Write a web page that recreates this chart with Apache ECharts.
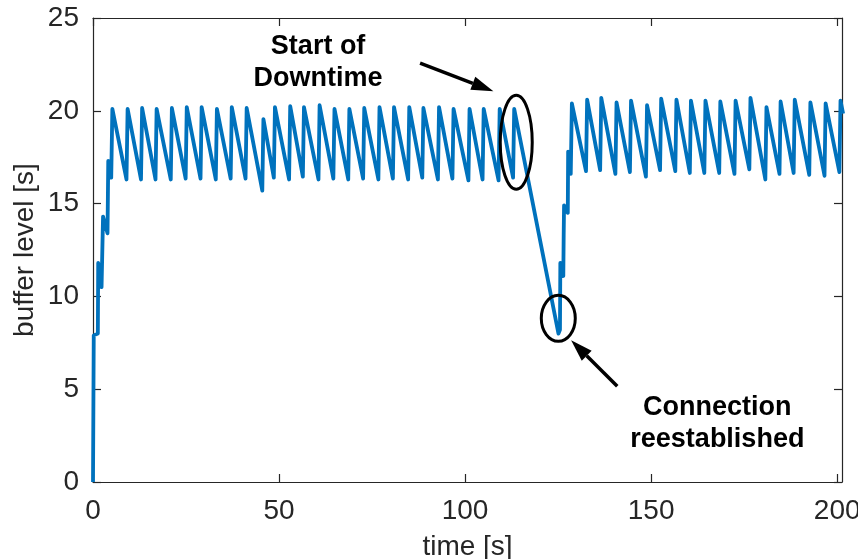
<!DOCTYPE html>
<html>
<head>
<meta charset="utf-8">
<script src="https://cdn.jsdelivr.net/npm/echarts@6/dist/echarts.min.js"></script>
<style>
  html, body { margin: 0; padding: 0; background: #fff; }
  #chart { width: 858px; height: 559px; }
</style>
</head>
<body>
<div id="chart"></div>
<script>
// Start-up phase: buffer filled in steps
const startupTime  = [0, 0.1, 0.2, 1.3, 1.4, 2.3, 2.7, 3.9, 4.1, 4.9];
const startupLevel = [0, 3.9, 7.9, 8.0, 11.8, 10.5, 14.3, 13.4, 17.3, 16.4];

// Steady playback before the outage (peaks and the troughs preceding them)
const peakTime1  = [5.2, 9.3, 13.2, 17.1, 21.2, 25.2, 29.2, 33.3, 37.3, 41.3, 45.8, 48.9, 53.0, 56.7,
                    60.9, 64.9, 68.9, 72.9, 77.0, 80.9, 85.0, 88.8, 93.0, 96.9, 101.2, 105.0, 109.3, 113.2];
const peakLevel1 = [20.1, 20.1, 20.15, 20.1, 20.15, 20.2, 20.2, 20.1, 20.2, 20.15, 19.55, 20.2, 20.25, 20.2,
                    20.3, 20.1, 20.1, 20.15, 20.2, 20.2, 20.2, 20.15, 20.2, 20.1, 20.1, 20.1, 20.1, 20.1];
const troughTime1  = [9.0, 12.9, 16.8, 20.9, 24.9, 28.9, 33.0, 37.0, 41.0, 45.5, 48.6, 52.7, 56.4, 60.6,
                      64.6, 68.6, 72.6, 76.7, 80.6, 84.7, 88.5, 92.7, 96.6, 100.9, 104.7, 109.0, 112.9];
const troughLevel1 = [16.3, 16.3, 16.3, 16.3, 16.35, 16.35, 16.3, 16.35, 16.35, 15.7, 16.4, 16.3, 16.45, 16.3,
                      16.35, 16.3, 16.35, 16.3, 16.35, 16.3, 16.4, 16.3, 16.35, 16.25, 16.3, 16.25, 16.4];

// Recovery after the connection comes back
const recoveryTime  = [125.1, 125.5, 125.6, 126.4, 126.5, 126.6, 127.6, 127.7, 128.4];
const recoveryLevel = [8.0, 8.2, 11.8, 11.1, 13.3, 14.9, 14.5, 17.8, 16.6];

// Steady playback after the outage
const peakTime2  = [128.7, 132.8, 136.6, 140.7, 144.6, 148.9, 152.7, 156.8, 160.7, 164.6, 168.6, 172.7,
                    176.7, 181.0, 184.8, 188.6, 192.8, 196.9, 200.9];
const peakLevel2 = [20.4, 20.6, 20.7, 20.45, 20.55, 20.3, 20.65, 20.6, 20.55, 20.55, 20.5, 20.55,
                    20.7, 20.2, 20.5, 20.6, 20.45, 20.4, 20.55];
const troughTime2  = [132.5, 136.3, 140.4, 144.3, 148.6, 152.4, 156.5, 160.4, 164.3, 168.3, 172.4, 176.4,
                      180.7, 184.5, 188.3, 192.5, 196.6, 200.6];
const troughLevel2 = [16.75, 16.8, 16.6, 16.7, 16.45, 16.8, 16.75, 16.65, 16.65, 16.65, 16.6, 16.85,
                      16.3, 16.6, 16.65, 16.55, 16.5, 16.7];
const tailTime  = [201.6];
const tailLevel = [19.85];

const xTicks = [0, 50, 100, 150, 200];
const yTicks = [0, 5, 10, 15, 20, 25];

// Assemble the trace in time order
function sawtooth(pt, pl, tt, tl) {
  const out = [];
  for (let i = 0; i < pt.length; i++) {
    if (i > 0) out.push([tt[i - 1], tl[i - 1]]);
    out.push([pt[i], pl[i]]);
  }
  return out;
}
const pairs = (t, v) => t.map((x, i) => [x, v[i]]);
const trace = [].concat(
  pairs(startupTime, startupLevel),
  sawtooth(peakTime1, peakLevel1, troughTime1, troughLevel1),
  pairs(recoveryTime, recoveryLevel),
  sawtooth(peakTime2, peakLevel2, troughTime2, troughLevel2),
  pairs(tailTime, tailLevel)
);

const FONT = "'Liberation Sans', Arial, Helvetica, sans-serif";
const AX = '#262626';
const X_MAX = 201.3;

const frameAxis = (extra) => Object.assign({
  type: 'value',
  axisLine: { show: true, onZero: false, lineStyle: { color: AX, width: 1.2 } },
  axisTick: { show: true, inside: true, length: 8, lineStyle: { color: AX, width: 1.2 } },
  splitLine: { show: false },
  axisLabel: { show: false }
}, extra);

const chart = echarts.init(document.getElementById('chart'), null, { renderer: 'canvas' });
chart.setOption({
  animation: false,
  backgroundColor: '#fff',
  grid: { left: 93, right: 16, top: 18, bottom: 77, containLabel: false, outerBoundsMode: 'none' },
  xAxis: [
    frameAxis({
      position: 'bottom', min: 0, max: X_MAX,
      axisTick: { show: true, inside: true, length: 8, customValues: xTicks, lineStyle: { color: AX, width: 1.2 } },
      axisLabel: { show: true, customValues: xTicks, color: AX, fontSize: 28, fontFamily: FONT, margin: 15 },
      name: 'time [s]', nameLocation: 'middle', nameGap: 51, nameMoveOverlap: false,
      nameTextStyle: { color: AX, fontSize: 28, fontFamily: FONT }
    }),
    frameAxis({
      position: 'top', min: 0, max: X_MAX,
      axisTick: { show: true, inside: true, length: 8, customValues: xTicks, lineStyle: { color: AX, width: 1.2 } }
    })
  ],
  yAxis: [
    frameAxis({
      position: 'left', min: 0, max: 25, interval: 5,
      axisLabel: { show: true, color: AX, fontSize: 28, fontFamily: FONT, margin: 14 },
      name: 'buffer level [s]', nameLocation: 'middle', nameGap: 54, nameMoveOverlap: false,
      nameTextStyle: { color: AX, fontSize: 28, fontFamily: FONT }
    }),
    frameAxis({ position: 'right', min: 0, max: 25, interval: 5 })
  ],
  series: [{
    type: 'line',
    xAxisIndex: 0, yAxisIndex: 0,
    data: trace,
    showSymbol: false,
    clip: true,
    lineStyle: { color: '#0072BD', width: 3.8, join: 'round', cap: 'butt' },
    itemStyle: { color: '#0072BD' }
  }]
});

// Annotations, anchored to data coordinates
const px = (t, v) => chart.convertToPixel({ xAxisIndex: 0, yAxisIndex: 0 }, [t, v]);

function arrow(from, to) {
  const a = px(from[0], from[1]);
  const b = px(to[0], to[1]);
  const dx = b[0] - a[0], dy = b[1] - a[1];
  const len = Math.hypot(dx, dy);
  const ux = dx / len, uy = dy / len;
  const headLen = 22, headHalf = 7;
  const base = [b[0] - ux * headLen, b[1] - uy * headLen];
  return [
    { type: 'line', shape: { x1: a[0], y1: a[1], x2: base[0], y2: base[1] },
      style: { stroke: '#000', lineWidth: 3.5 }, z: 100 },
    { type: 'polygon', shape: { points: [
        [b[0], b[1]],
        [base[0] - uy * headHalf, base[1] + ux * headHalf],
        [base[0] + uy * headHalf, base[1] - ux * headHalf]
      ] }, style: { fill: '#000' }, z: 100 }
  ];
}

function ring(t, v, rx, ry) {
  const c = px(t, v);
  return { type: 'ellipse', shape: { cx: c[0], cy: c[1], rx: rx, ry: ry },
           style: { fill: null, stroke: '#000', lineWidth: 3 }, z: 100 };
}

function note(t, v, text) {
  const c = px(t, v);
  return { type: 'text', x: c[0], y: c[1], z: 100,
           style: { text: text, fill: '#000', font: "bold 27px " + FONT,
                    align: 'center', verticalAlign: 'middle', lineHeight: 32 } };
}

chart.setOption({
  graphic: [].concat(
    [ring(113.75, 18.3, 16, 47), ring(125.05, 8.82, 17, 23)],
    arrow([87.9, 22.57], [107.6, 21.06]),
    arrow([140.9, 5.16], [128.5, 7.64]),
    [note(60.5, 22.6, 'Start of\nDowntime'), note(167.8, 3.16, 'Connection\nreestablished')]
  )
});
</script>
</body>
</html>
